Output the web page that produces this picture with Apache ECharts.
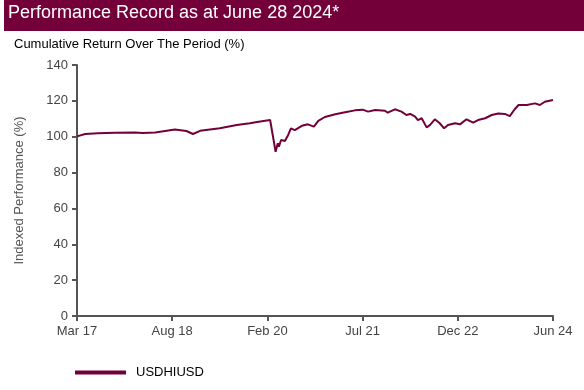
<!DOCTYPE html>
<html>
<head>
<meta charset="utf-8">
<title>Performance Record</title>
<script src="https://cdn.jsdelivr.net/npm/echarts@6/dist/echarts.min.js"></script>
<style>
  html, body { margin: 0; padding: 0; background: #fff; }
  #main { width: 584px; height: 390px; }
</style>
</head>
<body>
<div id="main"></div>
<script>
// months since Mar 2017
var months = [0, 1.5, 3.8, 7, 10.6, 12, 14.3, 17.9, 20, 21.2,
  22.5, 26.1, 29.2, 31.6, 32.9, 35.3, 35.6, 36.3, 36.7,
  36.9, 37.3, 38, 38.6, 39.1, 39.8, 41.1, 42.2, 43.3, 43.6,
  44.1, 45.3, 47.2, 49, 50.8, 52.2, 53.2, 54.5, 56.3, 56.8,
  58.1, 59.3, 60.2, 60.9, 61.8, 62.3, 63, 63.9, 64.5, 65.4,
  66.3, 67.1, 67.8, 69.1, 70, 70.3, 71.2, 72.4, 73.3, 74.6,
  75.8, 77, 78.2, 79.1, 80, 80.7, 82.2, 83.7, 84.6, 85.5, 87];
// indexed performance (%) of USDHIUSD
var usdhiusd = [100.2, 101.5, 101.9, 102.2, 102.3, 102.1, 102.3, 104.0, 103.2, 101.5,
  103.3, 104.7, 106.5, 107.5, 108.2, 109.3, 108.4, 91.6, 96.3,
  94.5, 98.2, 97.6, 101, 104.7, 103.7, 106.1, 106.9, 105.6, 104.7,
  108.8, 111, 112.5, 113.6, 114.7, 115.1, 114, 114.9, 114.5, 113.4,
  115.3, 114, 112.1, 112.7, 111.2, 109.3, 110.3, 105.2, 106.5, 109.7,
  107.5, 104.7, 106.5, 107.5, 106.9, 107.5, 109.7, 107.8, 109.3, 110.3,
  112.1, 113, 112.7, 111.5, 115.3, 117.7, 117.7, 118.6, 117.7, 119.5, 120.5];
var tickLabels = ['Mar 17', 'Aug 18', 'Feb 20', 'Jul 21', 'Dec 22', 'Jun 24'];
var seriesName = 'USDHIUSD';

var maroon = '#74003a';
var font = 'Liberation Sans, Arial, sans-serif';
var tickStep = 87 / 5;

var seriesData = [];
for (var i = 0; i < months.length; i++) {
  seriesData.push([months[i], usdhiusd[i]]);
}

var myChart = echarts.init(document.getElementById('main'));
var option = {
  animation: false,
  graphic: [{
    type: 'rect',
    left: 4, top: 0,
    shape: { width: 580, height: 31 },
    style: { fill: maroon },
    z: -1
  }],
  title: [{
    text: 'Performance Record as at June 28 2024*',
    left: 4, top: 4, padding: [0, 4],
    textStyle: { color: '#fff', fontSize: 18, fontWeight: 'normal', fontFamily: font }
  }, {
    text: 'Cumulative Return Over The Period (%)',
    left: 10, top: 38, padding: [0, 4],
    textStyle: { color: '#000', fontSize: 13, fontWeight: 'normal', fontFamily: font }
  }],
  legend: {
    left: 75, top: 366, padding: 0,
    itemWidth: 51, itemHeight: 4,
    itemGap: 10,
    icon: 'rect',
    textStyle: { color: '#000', fontSize: 13, fontFamily: font, padding: [0, 0, 0, 5] },
    data: [seriesName]
  },
  grid: { left: 77, right: 31, top: 65, bottom: 74, containLabel: false },
  xAxis: {
    type: 'value',
    min: 0, max: 87, interval: tickStep,
    axisLine: { lineStyle: { color: '#555', width: 2 } },
    axisTick: { show: true, length: 5, lineStyle: { color: '#555', width: 2 } },
    splitLine: { show: false },
    axisLabel: {
      color: '#444', fontSize: 13, fontFamily: font, margin: 9,
      formatter: function (v) {
        return tickLabels[Math.round(v / tickStep)] || '';
      }
    }
  },
  yAxis: {
    type: 'value',
    min: 0, max: 140, interval: 20,
    name: 'Indexed Performance (%)',
    nameLocation: 'middle', nameRotate: 90, nameGap: 51,
    nameTextStyle: { color: '#555', fontSize: 13, fontFamily: font },
    axisLine: { show: true, lineStyle: { color: '#555', width: 2 } },
    axisTick: { show: true, length: 5, lineStyle: { color: '#555', width: 2 } },
    splitLine: { show: false },
    axisLabel: { color: '#444', fontSize: 13, fontFamily: font, margin: 9 }
  },
  series: [{
    name: seriesName,
    type: 'line',
    data: seriesData,
    showSymbol: false,
    symbol: 'none',
    lineStyle: { color: maroon, width: 2 },
    itemStyle: { color: maroon }
  }]
};
myChart.setOption(option);
</script>
</body>
</html>
